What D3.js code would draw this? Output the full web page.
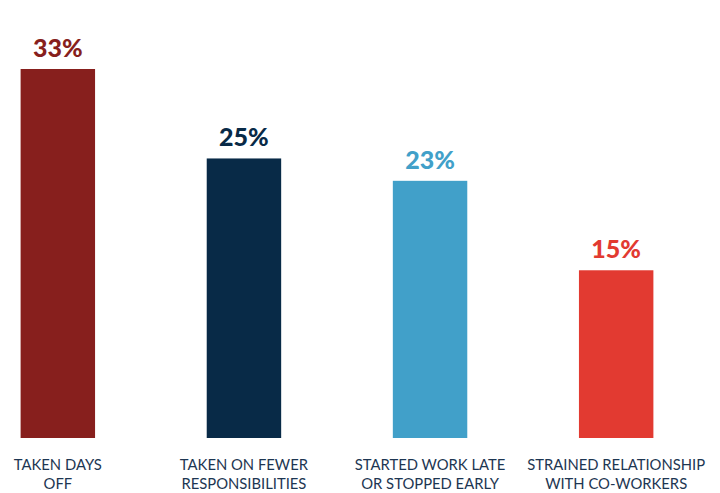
<!DOCTYPE html>
<html>
<head>
<meta charset="utf-8">
<script src="https://cdn.jsdelivr.net/npm/d3@7"></script>
<style>
  html, body { margin: 0; padding: 0; background: #fff; }
  svg { display: block; }
</style>
</head>
<body>
<svg id="chart"></svg>
<script>
// chart data
const categories = [
  ["TAKEN DAYS", "OFF"],
  ["TAKEN ON FEWER", "RESPONSIBILITIES"],
  ["STARTED WORK LATE", "OR STOPPED EARLY"],
  ["STRAINED RELATIONSHIP", "WITH CO-WORKERS"]
];
const values = [33, 25, 23, 15];
const colors = ["#871f1d", "#082a47", "#41a0c9", "#e23a31"];

const width = 720;
const height = 493;
const baseline = 438;

const svg = d3.select("#chart")
  .attr("width", width)
  .attr("height", height);

// x positions for each bar
const x = d3.scaleBand()
  .domain(d3.range(values.length))
  .range([2, 672])
  .paddingInner(0.6)
  .paddingOuter(0.1);

const y = d3.scaleLinear()
  .domain([0, 33])
  .range([baseline, 69]);

// bars
svg.selectAll(".bar")
  .data(values)
  .enter().append("rect")
  .attr("class", "bar")
  .attr("x", (d, i) => x(i))
  .attr("y", d => y(d))
  .attr("width", x.bandwidth())
  .attr("height", d => baseline - y(d))
  .attr("fill", (d, i) => colors[i]);

// value labels
svg.selectAll(".value")
  .data(values)
  .enter().append("text")
  .attr("class", "value")
  .attr("x", (d, i) => x(i) + x.bandwidth() / 2)
  .attr("y", d => y(d) - 12)
  .attr("text-anchor", "middle")
  .attr("font-family", "Lato, sans-serif")
  .attr("font-weight", 900)
  .attr("font-size", 25)
  .attr("fill", (d, i) => colors[i])
  .text(d => d + "%");

// category labels (two lines each)
const cat = svg.selectAll(".cat")
  .data(categories)
  .enter().append("text")
  .attr("class", "cat")
  .attr("text-anchor", "middle")
  .attr("font-family", "Lato, sans-serif")
  .attr("font-size", 14.8)
  .attr("fill", "#1d3652");

cat.selectAll("tspan")
  .data((d, i) => d.map(line => ({ line, i })))
  .enter().append("tspan")
  .attr("x", d => x(d.i) + x.bandwidth() / 2)
  .attr("y", (d, j) => 470 + j * 19)
  .text(d => d.line);
</script>
</body>
</html>
